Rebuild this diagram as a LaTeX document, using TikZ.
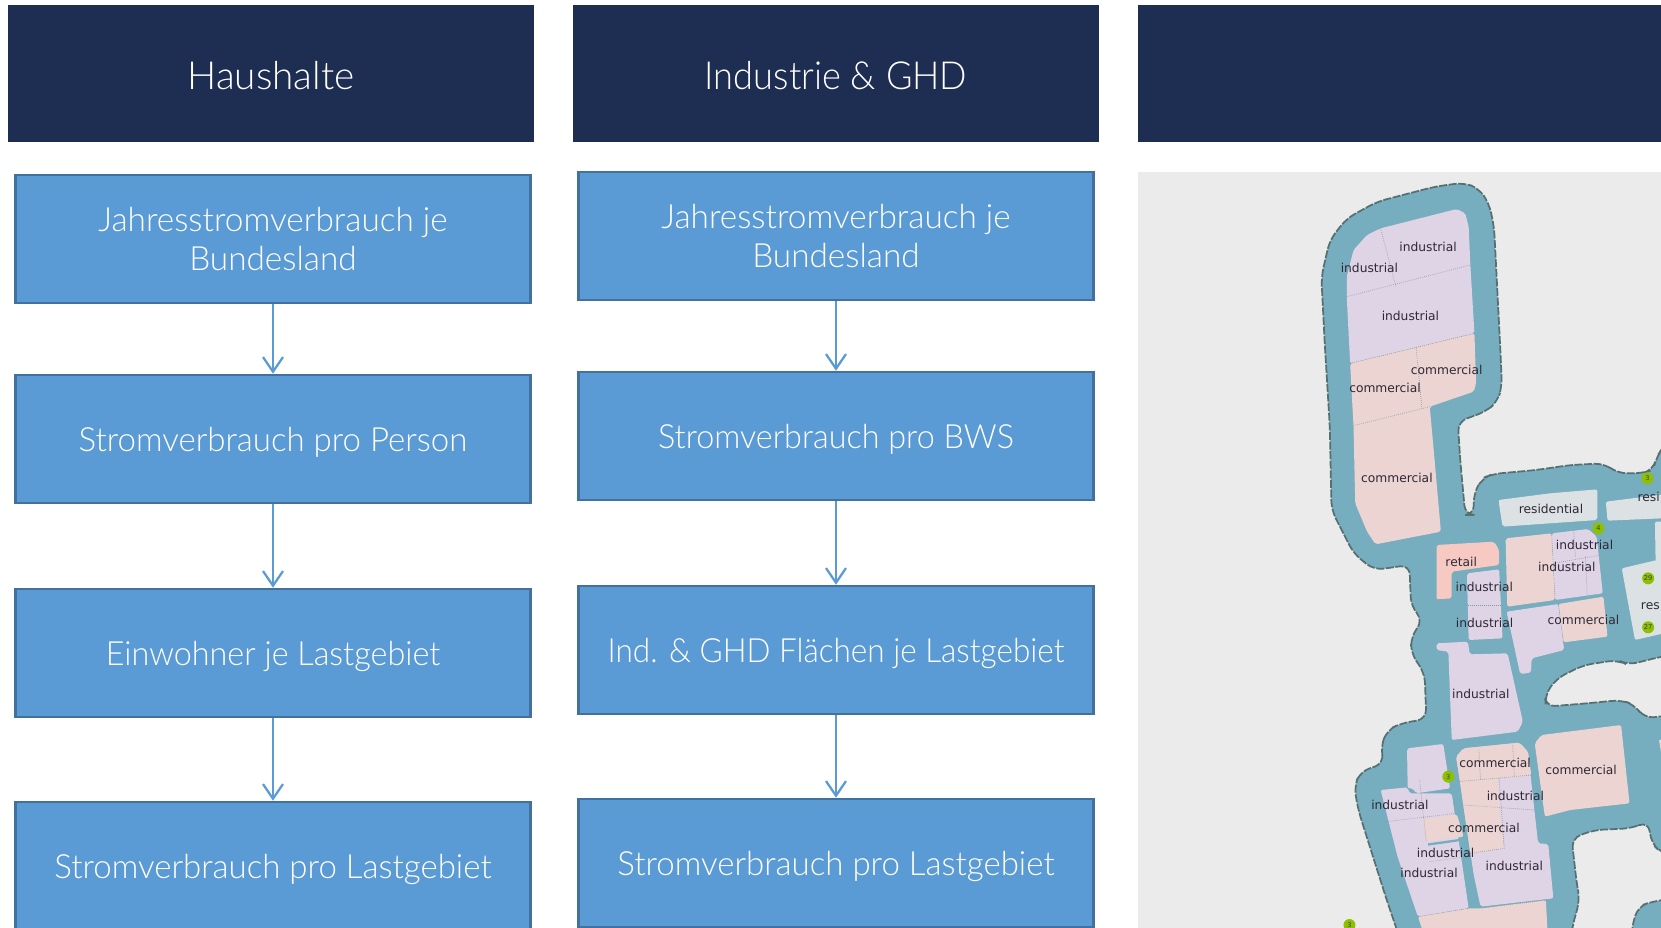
\documentclass[tikz,border=0pt]{standalone}
\usepackage{fontspec}
\setmainfont{Lato Light}
\newfontfamily\mapfont{DejaVu Sans}
\usetikzlibrary{arrows.meta}
\definecolor{hdr}{HTML}{1E2D52}
\definecolor{boxf}{HTML}{5B9BD5}
\definecolor{boxd}{HTML}{41719C}
\definecolor{mapbg}{HTML}{EBEBEB}
\definecolor{teal}{HTML}{76ADBF}
\definecolor{ind}{HTML}{DFD3E6}
\definecolor{com}{HTML}{EBD4D1}
\definecolor{res}{HTML}{DCE1E3}
\definecolor{ret}{HTML}{F6CAC3}
\definecolor{rim}{HTML}{566F70}
\definecolor{maptxt}{HTML}{2E2836}
\definecolor{pinc}{HTML}{8CC000}
\tikzset{
  hdrbox/.style={fill=hdr,draw=none,text=white,minimum height=102.75pt,inner sep=0pt,font=\fontsize{29}{33}\selectfont,anchor=center,text height=30pt,text depth=6.3pt},
  flowbox/.style={fill=boxf,draw=boxd,line width=1.9pt,text=white,minimum width=386pt,minimum height=96pt,inner sep=0pt,align=center,font=\fontsize{25}{29}\selectfont},
  oneline/.style={text height=24pt,text depth=5.8pt},
  flowarr/.style={draw=boxf,line width=1.7pt,-{Straight Barb[length=11pt,width=15pt,line width=1.7pt]}},
  dotline/.style={draw=rim!70,line width=.5pt,densely dotted},
  zone/.style={rounded corners=1.5pt,draw=none},
  lab/.style={font=\mapfont\fontsize{9.2}{10}\selectfont,text=maptxt,inner sep=0pt},
  pin/.style={circle,fill=pinc,minimum size=9pt,inner sep=0pt,font=\mapfont\fontsize{5}{5}\selectfont,text=black!75}
}
\begin{document}
\begin{tikzpicture}[x=0.75pt,y=-0.75pt]
\useasboundingbox (0,0) rectangle (1661,928);
% headers
\node[hdrbox,minimum width=394.5pt] (h1) at (271,73.5) {Haushalte};
\node[hdrbox,minimum width=394.5pt] (h2) at (836,73.5) {\scalebox{0.935}[1]{Industrie \& GHD}};
\node[hdrbox,minimum width=392.5pt] (h3) at (1399.5,73.5) {};
% column 1
\node[flowbox] (a1) at (273,239) {Jahresstromverbrauch je\\Bundesland};
\node[flowbox,oneline] (a2) at (273,439) {\scalebox{0.99}[1]{Stromverbrauch pro Person}};
\node[flowbox,oneline] (a3) at (273,653) {\scalebox{0.97}[1]{Einwohner je Lastgebiet}};
\node[flowbox,oneline] (a4) at (273,866) {\scalebox{0.99}[1]{Stromverbrauch pro Lastgebiet}};
\draw[flowarr] (a1.south) -- (a2.north);
\draw[flowarr] (a2.south) -- (a3.north);
\draw[flowarr] (a3.south) -- (a4.north);
% column 2
\node[flowbox] (b1) at (836,236) {Jahresstromverbrauch je\\Bundesland};
\node[flowbox,oneline] (b2) at (836,436) {\scalebox{0.97}[1]{Stromverbrauch pro BWS}};
\node[flowbox,oneline] (b3) at (836,650) {\scalebox{0.945}[1]{Ind. \& GHD Flächen je Lastgebiet}};
\node[flowbox,oneline] (b4) at (836,863) {\scalebox{0.99}[1]{Stromverbrauch pro Lastgebiet}};
\draw[flowarr] (b1.south) -- (b2.north);
\draw[flowarr] (b2.south) -- (b3.north);
\draw[flowarr] (b3.south) -- (b4.north);
% map
\fill[mapbg] (1138,172) rectangle (1661,928);
\begin{scope}
\clip (1138,172) rectangle (1661,928);
\begin{scope}[shift={(1130,160)},x=0.254pt,y=-0.25pt]
\draw[fill=teal,draw=rim,line width=1.3pt,dash pattern=on 6pt off 1.2pt,rounded corners=7pt]
 (985,68)--(1030,85)--(1060,130)--(1075,200)--(1085,400)--(1095,600)--(1098,680)--(1085,725)--(1050,755)--(968,785)--(975,900)--(990,1065)--(1015,1065)--(1015,1000)--(1040,955)--(1070,942)--(1200,930)--(1300,915)--(1400,910)--(1440,940)--(1510,940)--(1545,930)--(1555,890)--(1575,860)--(1640,860)--(1640,1480)--(1568,1490)--(1470,1515)--(1440,1500)--(1340,1515)--(1260,1555)--(1225,1605)--(1228,1640)--(1350,1630)--(1450,1620)--(1490,1635)--(1520,1675)--(1640,1660)--(1640,2095)--(1568,2078)--(1540,2050)--(1530,1985)--(1480,2005)--(1370,2010)--(1304,2035)--(1319,2170)--(1328,2220)--(1305,2304)--(1300,2360)--(805,2360)--(758,2220)--(674,1950)--(662,1880)--(680,1835)--(750,1810)--(740,1760)--(760,1710)--(800,1690)--(875,1677)--(870,1540)--(830,1480)--(830,1430)--(865,1380)--(830,1340)--(825,1215)--(720,1230)--(660,1180)--(595,1050)--(590,800)--(575,550)--(565,350)--(590,240)--(640,175)--(730,125)--(900,80)--cycle;
\draw[fill=teal,draw=rim,line width=1.3pt,dash pattern=on 6pt off 1.2pt,rounded corners=7pt]
 (1640,2210)--(1540,2225)--(1500,2240)--(1481,2304)--(1481,2360)--(1640,2360)--cycle;
% upper block
\fill[ind,zone] (965,147)--(990,160)--(1000,200)--(1005,315)--(1017,520)--(650,610)--(640,410)--(640,350)--(660,270)--(700,225)--(740,205)--cycle;
\fill[com,zone] (650,610)--(1017,520)--(1022,670)--(1015,695)--(885,740)--(895,850)--(918,1115)--(725,1153)--(700,1115)--(665,1030)--(660,800)--cycle;
\draw[dotline] (740,205)--(785,380) (640,410)--(1005,315) (650,610)--(1017,520) (845,565)--(862,745) (660,797)--(885,740);
% middle block
\fill[res,zone] (1088,1020)--(1240,1000)--(1380,988)--(1380,1080)--(1100,1100)--cycle;
\fill[res,zone] (1405,1025)--(1640,995)--(1640,1072)--(1410,1082)--cycle;
\fill[ret,zone] (905,1155)--(1075,1145)--(1090,1170)--(1090,1215)--(950,1235)--(950,1315)--(905,1318)--cycle;
\fill[com,zone] (1109,1135)--(1245,1120)--(1255,1320)--(1114,1340)--cycle;
\fill[ind,zone] (1245,1120)--(1353,1107)--(1378,1130)--(1396,1300)--(1255,1320)--cycle;
\draw[dotline] (1245,1120)--(1255,1320) (1310,1110)--(1315,1190) (1345,1190)--(1350,1305) (1250,1210)--(1390,1185);
\fill[ind,zone] (1112,1355)--(1265,1332)--(1282,1470)--(1186,1495)--(1184,1538)--(1152,1542)--cycle;
\fill[com,zone] (1265,1332)--(1398,1310)--(1410,1430)--(1280,1447)--cycle;
\draw[dotline] (1265,1332)--(1280,1447);
\fill[res,zone] (1452,1225)--(1640,1180)--(1640,1405)--(1491,1440)--cycle;
\fill[res,zone] (1550,1085)--(1640,1085)--(1640,1190)--(1552,1205)--cycle;
\fill[ind,zone] (995,1240)--(1090,1228)--(1100,1435)--(1000,1440)--cycle;
\draw[dotline] (997,1335)--(1095,1335);
\fill[ind,zone] (905,1450)--(998,1445)--(1003,1483)--(1115,1480)--(1160,1685)--(1145,1715)--(950,1740)--(940,1475)--(905,1470)--cycle;
% lower block
\fill[ind,zone] (818,1765)--(925,1752)--(945,1885)--(845,1900)--(835,1885)--(820,1885)--cycle;
\fill[ind,zone] (963,1790)--(985,1765)--(1150,1748)--(1175,1775)--(1205,2050)--(1235,2052)--(1250,2215)--(1035,2240)--(1015,2145)--cycle;
\fill[com,zone] (963,1790)--(985,1765)--(1150,1748)--(1175,1775)--(1185,1845)--(1085,1855)--(1090,1930)--(1105,2065)--(1005,2080)--(985,1940)--(975,1865)--cycle;
\draw[dotline] (970,1865)--(1185,1845) (985,1935)--(1195,1950) (1030,1770)--(1035,1860) (1130,1755)--(1135,1850) (1090,1855)--(1105,2065) (1005,2080)--(1105,2065);
\fill[ind,zone] (740,1890)--(820,1882)--(825,1900)--(950,1900)--(1000,2245)--(850,2270)--(790,2090)--cycle;
\fill[com,zone] (862,1978)--(965,1962)--(985,2030)--(875,2045)--cycle;
\fill[teal] (880,2050)--(985,2035)--(985,2042)--(880,2057)--cycle;
\draw[dotline] (755,1985)--(965,1960) (855,1860)--(875,2045) (885,2105)--(1000,2090);
\fill[com,zone] (850,2270)--(1000,2245)--(1035,2245)--(1228,2220)--(1235,2360)--(880,2360)--cycle;
\draw[dotline] (850,2270)--(1000,2245) (1035,2245)--(1228,2220);
\fill[com,zone] (1195,1750)--(1215,1725)--(1450,1695)--(1475,1930)--(1300,1950)--(1225,1970)--cycle;
\fill[com] (1562,1740)--(1640,1730)--(1640,1790)--(1570,1790)--cycle;
% labels
\node[lab] (l1) at (880,260) {industrial};
\node[lab] (l2) at (707,325) {industrial};
\node[lab] (l3) at (828,467) {industrial};
\node[lab] (l4) at (935,630) {commercial};
\node[lab] (l5) at (753,683) {commercial};
\node[lab] (l6) at (788,953) {commercial};
\node[lab] (l7) at (1243,1048) {residential};
\node[lab,anchor=west] (l8) at (1498,1010) {resi};
\node[lab] (l9) at (1342,1155) {industrial};
\node[lab] (l10) at (1290,1222) {industrial};
\node[lab] (l11) at (978,1205) {retail};
\node[lab] (l12) at (1046,1282) {industrial};
\node[lab] (l13) at (1047,1390) {industrial};
\node[lab] (l14) at (1339,1380) {commercial};
\node[lab,anchor=west] (l15) at (1508,1338) {res};
\node[lab] (l16) at (1036,1602) {industrial};
\node[lab] (l17) at (1078,1808) {commercial};
\node[lab] (l18) at (1332,1830) {commercial};
\node[lab] (l19) at (1138,1907) {industrial};
\node[lab] (l20) at (797,1935) {industrial};
\node[lab] (l21) at (1045,2003) {commercial};
\node[lab] (l22) at (932,2078) {industrial};
\node[lab] (l23) at (883,2138) {industrial};
\node[lab] (l24) at (1135,2118) {industrial};
% pins
\node[pin] (p1) at (1528,955) {3};
\node[pin] (p2) at (1383,1105) {4};
\node[pin] (p3) at (1530,1255) {29};
\node[pin] (p4) at (1530,1402) {27};
\node[pin] (p5) at (940,1850) {3};
\node[pin] (p6) at (648,2295) {3};
\end{scope}
\end{scope}
\end{tikzpicture}
\end{document}
